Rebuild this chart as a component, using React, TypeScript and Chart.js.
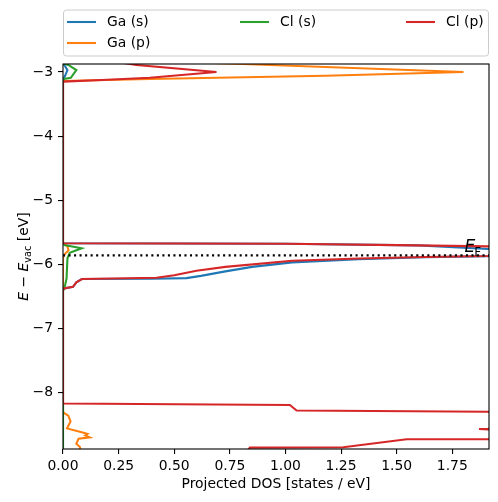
import React, { useEffect, useRef } from "react";
import { Chart, registerables } from "chart.js";

Chart.register(...registerables);

// ---- data: [DOS (states/eV), E - E_vac (eV)] ----
const gaS: [number, number][] = [
  [0, -2.86], [0.006, -2.89], [0.02, -2.97], [0.008, -3.07], [0, -3.12],
  [0, -5.67], [1.0, -5.68], [1.6, -5.705], [1.91, -5.76], [2.2, -5.82], [1.91, -5.875],
  [1.63, -5.89], [1.33, -5.92], [1.03, -5.97], [0.85, -6.04], [0.73, -6.11], [0.62, -6.18],
  [0.555, -6.215], [0.4, -6.225], [0.085, -6.23], [0.06, -6.28], [0.045, -6.35], [0, -6.38],
  [0, -9.0],
];
const gaP: [number, number][] = [
  [0.6, -2.85], [0.84, -2.88], [1.8, -3.0], [1.18, -3.058], [0.39, -3.11], [0, -3.14],
  [0, -5.67], [0.02, -5.72], [0.025, -5.78], [0.005, -5.85], [0, -5.9],
  [0, -8.3], [0.009, -8.33], [0.024, -8.36], [0.034, -8.45], [0.018, -8.56], [0.084, -8.62],
  [0.11, -8.645], [0.1, -8.67], [0.12, -8.7], [0.07, -8.72], [0.06, -8.8], [0.076, -8.85],
  [0.08, -8.95],
];
const clS: [number, number][] = [
  [0, -2.86], [0.024, -2.89], [0.06, -2.97], [0.035, -3.09], [0.005, -3.11], [0, -3.13],
  [0, -5.66], [0.006, -5.7], [0.084, -5.75], [0.03, -5.82], [0.02, -5.91], [0.016, -6.22],
  [0.006, -6.38], [0, -6.41], [0, -9.0],
];
const clP: [number, number][] = [
  [0.2, -2.82], [0.33, -2.89], [0.69, -3.0], [0.39, -3.09], [0.2, -3.12], [0, -3.15],
  [0, -5.67], [1.0, -5.68], [1.5, -5.7], [1.91, -5.72], [2.5, -5.79], [1.91, -5.87],
  [1.63, -5.885], [1.33, -5.91], [1.03, -5.945], [0.73, -6.04], [0.6, -6.1], [0.5, -6.17],
  [0.42, -6.21], [0.085, -6.23], [0.06, -6.28], [0.045, -6.35], [0, -6.38],
  [0, -8.17], [1.02, -8.195], [1.05, -8.28], [1.91, -8.3], [2.3, -8.4], [1.91, -8.565],
  [1.87, -8.57], [1.91, -8.575], [2.3, -8.65], [1.91, -8.73], [1.545, -8.73], [1.26, -8.853],
  [0.84, -8.86], [0.82, -8.95], [0, -9.0],
];

const seriesLabels = ["Ga (s)", "Ga (p)", "Cl (s)", "Cl (p)"];
const seriesColors = ["#1f77b4", "#ff7f0e", "#2ca02c", "#d62728"];

const E_F = -5.86;
const EF_LABEL_X = 1.805;
const X_MIN = 0;
const X_MAX = 1.915;
const Y_MIN = -8.881;
const Y_MAX = -2.875;
const xTicks = [0, 0.25, 0.5, 0.75, 1.0, 1.25, 1.5, 1.75];
const yTicks = [-8, -7, -6, -5, -4, -3];

const FONT_FAMILY = '"DejaVu Sans", sans-serif';
const FS = 13.9;

const toPts = (arr: [number, number][]) => arr.map(([x, y]) => ({ x, y }));

const overlayPlugin = {
  id: "overlay",
  afterDraw(chart: any) {
    const { ctx, chartArea: a, scales } = chart;
    ctx.save();
    // frame
    ctx.strokeStyle = "#000";
    ctx.lineWidth = 1.1;
    ctx.strokeRect(a.left, a.top, a.right - a.left, a.bottom - a.top);

    // E_F label
    const ex = scales.x.getPixelForValue(EF_LABEL_X);
    const ey = scales.y.getPixelForValue(E_F);
    ctx.fillStyle = "#000";
    ctx.textAlign = "left";
    ctx.textBaseline = "alphabetic";
    ctx.font = `italic 17px ${FONT_FAMILY}`;
    ctx.fillText("E", ex, ey - 3.5);
    const ew = ctx.measureText("E").width;
    ctx.font = `12px ${FONT_FAMILY}`;
    ctx.fillText("F", ex + ew - 1, ey + 0.5);

    // legend
    ctx.beginPath();
    ctx.roundRect(a.left + 0.5, 10, a.right - a.left - 1, 46, 3);
    ctx.fillStyle = "rgba(255,255,255,0.8)";
    ctx.fill();
    ctx.strokeStyle = "#cccccc";
    ctx.lineWidth = 1;
    ctx.stroke();
    const colX = [67, 240, 406];
    const rowY = [22, 43];
    const place = [[0, 0], [0, 1], [1, 0], [2, 0]];
    ctx.font = `${FS}px ${FONT_FAMILY}`;
    ctx.textBaseline = "middle";
    seriesLabels.forEach((lab, i) => {
      const [c, r] = place[i];
      const hx = colX[c];
      const hy = rowY[r];
      ctx.strokeStyle = seriesColors[i];
      ctx.lineWidth = 2.08;
      ctx.beginPath();
      ctx.moveTo(hx, hy);
      ctx.lineTo(hx + 29, hy);
      ctx.stroke();
      ctx.fillStyle = "#000";
      ctx.fillText(lab, hx + 40, hy);
    });

    // x axis title
    ctx.textBaseline = "alphabetic";
    ctx.textAlign = "center";
    ctx.font = `${FS}px ${FONT_FAMILY}`;
    ctx.fillText("Projected DOS [states / eV]", (a.left + a.right) / 2, 488);

    // y axis title (rotated, with math-style parts)
    const parts = [
      { t: "E", f: `italic ${FS}px ${FONT_FAMILY}`, dy: 0 },
      { t: " \u2212 ", f: `${FS}px ${FONT_FAMILY}`, dy: 0 },
      { t: "E", f: `italic ${FS}px ${FONT_FAMILY}`, dy: 0 },
      { t: "vac", f: `${FS * 0.7}px ${FONT_FAMILY}`, dy: 3 },
      { t: " [eV]", f: `${FS}px ${FONT_FAMILY}`, dy: 0 },
    ];
    let total = 0;
    const widths = parts.map((p) => {
      ctx.font = p.f;
      const w = ctx.measureText(p.t).width;
      total += w;
      return w;
    });
    ctx.translate(27.5, (a.top + a.bottom) / 2);
    ctx.rotate(-Math.PI / 2);
    ctx.textAlign = "left";
    let cx = -total / 2;
    parts.forEach((p, i) => {
      ctx.font = p.f;
      ctx.fillText(p.t, cx, p.dy);
      cx += widths[i];
    });
    ctx.restore();
  },
};

export default function App() {
  const ref = useRef<HTMLCanvasElement | null>(null);
  useEffect(() => {
    if (!ref.current) return;
    const series = [gaS, gaP, clS, clP];
    const datasets: any[] = series.map((s, i) => ({
      label: seriesLabels[i],
      data: toPts(s),
      showLine: true,
      borderColor: seriesColors[i],
      backgroundColor: seriesColors[i],
      borderWidth: 2.08,
      pointRadius: 0,
      pointHoverRadius: 0,
      fill: false,
      tension: 0,
      clip: 0,
      order: 5 - i,
    }));
    datasets.push({
      label: "E_F",
      data: [{ x: X_MIN, y: E_F }, { x: X_MAX, y: E_F }],
      showLine: true,
      borderColor: "#000",
      borderWidth: 2.08,
      borderDash: [2.08, 3.44],
      pointRadius: 0,
      fill: false,
      clip: 0,
      order: 0,
    });
    const font = { family: FONT_FAMILY, size: FS };
    const chart = new Chart(ref.current, {
      type: "scatter",
      data: { datasets },
      options: {
        animation: false,
        responsive: false,
        devicePixelRatio: 1,
        events: [],
        layout: { padding: { top: 64, right: 9, left: 0, bottom: 0 } },
        plugins: { legend: { display: false }, tooltip: { enabled: false } },
        scales: {
          x: {
            type: "linear",
            min: X_MIN,
            max: X_MAX,
            afterBuildTicks: (s: any) => {
              s.ticks = xTicks.map((v) => ({ value: v }));
            },
            afterFit: (s: any) => {
              s.height = 53;
            },
            grid: {
              drawOnChartArea: false,
              drawTicks: true,
              tickLength: 5,
              color: "#000",
              tickColor: "#000",
              tickWidth: 1.1,
              lineWidth: 1.1,
            },
            border: { display: false },
            ticks: {
              color: "#000",
              font,
              padding: 4,
              maxRotation: 0,
              autoSkip: false,
              callback: (v: any) => Number(v).toFixed(2),
            },
          },
          y: {
            type: "linear",
            min: Y_MIN,
            max: Y_MAX,
            afterBuildTicks: (s: any) => {
              s.ticks = yTicks.map((v) => ({ value: v }));
            },
            afterFit: (s: any) => {
              s.width = 63;
            },
            grid: {
              drawOnChartArea: false,
              drawTicks: true,
              tickLength: 5,
              color: "#000",
              tickColor: "#000",
              tickWidth: 1.1,
              lineWidth: 1.1,
            },
            border: { display: false },
            ticks: {
              color: "#000",
              font,
              padding: 5,
              autoSkip: false,
              callback: (v: any) => (v < 0 ? "\u2212" + Math.abs(v) : String(v)),
            },
          },
        },
      },
      plugins: [overlayPlugin],
    });
    return () => chart.destroy();
  }, []);
  return (
    <div style={{ position: "fixed", left: 0, top: 0, width: 498, height: 502 }}>
      <canvas ref={ref} width={498} height={502} style={{ width: 498, height: 502 }} />
    </div>
  );
}
